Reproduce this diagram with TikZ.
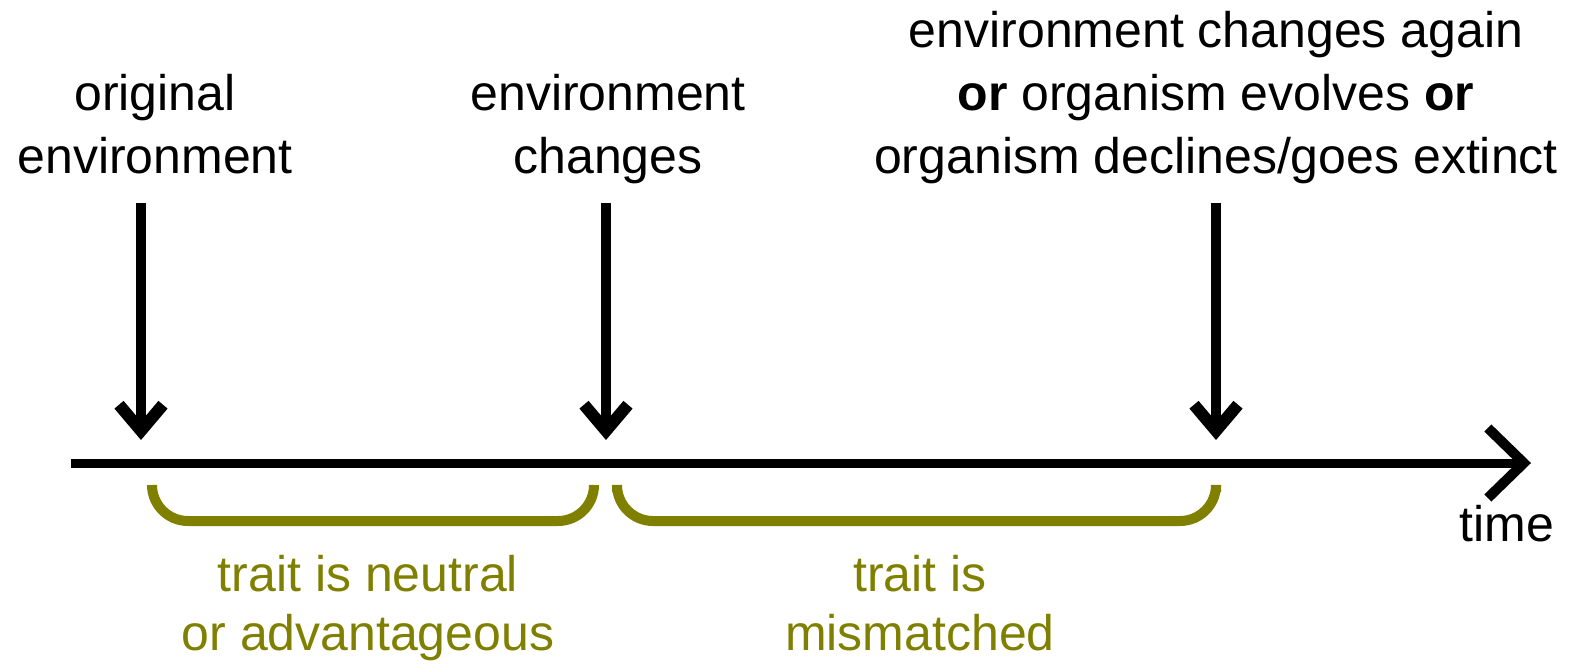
\documentclass[tikz,border=0pt]{standalone}
\usepackage{fontspec}
\setmainfont{Liberation Sans}
\usetikzlibrary{arrows.meta}
\definecolor{olivetxt}{RGB}{128,128,0}
\tikzset{
  lbl/.style={font=\fontsize{50}{63}\selectfont, align=center, inner sep=0pt, anchor=base},
  olbl/.style={lbl, text=olivetxt, font=\fontsize{50}{59}\selectfont},
  downarrow/.style={line width=10pt, -{Straight Barb[length=26pt,width=44pt,line width=12pt]}},
  timearrow/.style={line width=9pt, -{Straight Barb[length=36pt,width=70pt,line width=10pt]}},
  bracket/.style={draw=olivetxt, line width=10pt, rounded corners=36pt}
}
\begin{document}
\begin{tikzpicture}[x=1pt,y=-1pt]
\useasboundingbox (0,0) rectangle (1593,665);
% text nodes (anchor = baseline of last line)
\node[lbl] (orig) at (155,173) {original\\environment};
\node[lbl] (chg) at (608,173) {environment\\changes};
\node[lbl] (again) at (1216,173) {environment changes again\\\textbf{or} organism evolves \textbf{or}\\organism declines/goes extinct};
\node[lbl] (time) at (1507,541) {time};
\node[olbl] (neutral) at (368,650) {trait is neutral\\or advantageous};
\node[olbl] (mism) at (920,650) {trait is\\mismatched};
% coordinates
\coordinate (tstart) at (71,463);
\coordinate (tend) at (1531,463);
\coordinate (s1) at (141,203);
\coordinate (e1) at (141,440);
\coordinate (s2) at (606,203);
\coordinate (e2) at (606,440);
\coordinate (s3) at (1216,203);
\coordinate (e3) at (1216,440);
% timeline
\draw[timearrow] (tstart) -- (tend);
% event arrows
\draw[downarrow] (s1) -- (e1);
\draw[downarrow] (s2) -- (e2);
\draw[downarrow] (s3) -- (e3);
% brackets
\coordinate (b1l) at (152,485);
\coordinate (b1r) at (594,485);
\coordinate (b2l) at (617,492);
\coordinate (b2r) at (1216,492);
\draw[bracket] (b1l) -- ++(0,36) -| (b1r);
\draw[bracket] (b2l) -- ++(0,29) -| (b2r);
\end{tikzpicture}
\end{document}
